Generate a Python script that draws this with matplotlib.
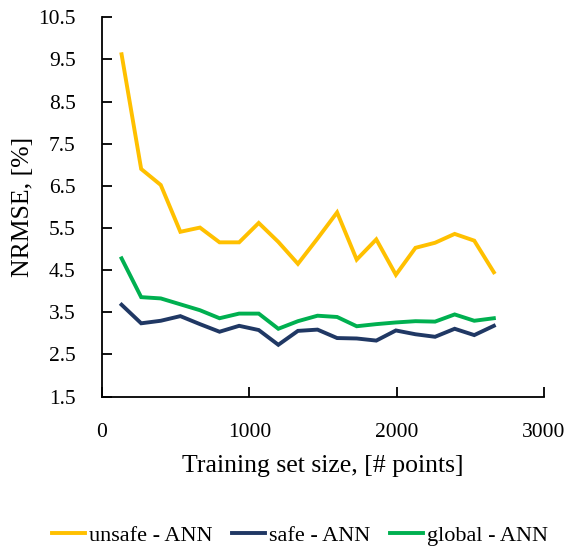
import numpy as np
import matplotlib.pyplot as plt

plt.rcParams['font.family'] = ['Liberation Serif', 'DejaVu Serif']

# training set sizes
sizes = [133, 266, 399, 532, 665, 798, 931, 1064, 1197, 1330,
         1463, 1596, 1729, 1862, 1995, 2128, 2261, 2394, 2527, 2660]

unsafe = [9.62, 6.90, 6.52, 5.41, 5.51, 5.16, 5.16, 5.62, 5.17, 4.65,
          5.25, 5.87, 4.75, 5.23, 4.39, 5.03, 5.15, 5.36, 5.20, 4.45]
safe = [3.68, 3.24, 3.30, 3.41, 3.22, 3.04, 3.18, 3.08, 2.73, 3.06,
        3.09, 2.89, 2.88, 2.83, 3.07, 2.98, 2.92, 3.11, 2.96, 3.18]
glob = [4.78, 3.86, 3.83, 3.69, 3.55, 3.36, 3.47, 3.47, 3.11, 3.29,
        3.42, 3.39, 3.17, 3.22, 3.26, 3.29, 3.28, 3.45, 3.30, 3.36]

labels = ["unsafe - ANN", "safe - ANN", "global - ANN"]
colors = ["#FFC000", "#203864", "#00B050"]

fig = plt.figure(figsize=(5.71, 5.54), dpi=100)
ax = fig.add_axes([0.1786, 0.284, 0.774, 0.685])

for vals, lab, col in zip([unsafe, safe, glob], labels, colors):
    ax.plot(sizes, vals, color=col, lw=2.8, label=lab, solid_joinstyle='miter')

ax.set_xlim(0, 3000)
ax.set_ylim(1.5, 10.5)
ax.set_xticks([0, 1000, 2000, 3000])
yt = np.arange(1.5, 10.6, 1.0)
ax.set_yticks(yt)
ax.set_yticklabels([f"{v:.1f}" for v in yt])
ax.tick_params(direction='in', length=7, width=1.3, labelsize=15.5, colors='black', pad=19)
for s in ['top', 'right']:
    ax.spines[s].set_visible(False)
for s in ['left', 'bottom']:
    ax.spines[s].set_linewidth(1.3)

ax.set_xlabel("Training set size, [# points]", fontsize=18.5, labelpad=9)
ax.set_ylabel("NRMSE, [%]", fontsize=18.5, labelpad=3)

fig.legend(loc='lower center', bbox_to_anchor=(0.525, -0.022), ncol=3, frameon=False,
           fontsize=16, handlelength=1.5, handletextpad=0.15, columnspacing=0.9)

fig.savefig("out.png", dpi=100)
